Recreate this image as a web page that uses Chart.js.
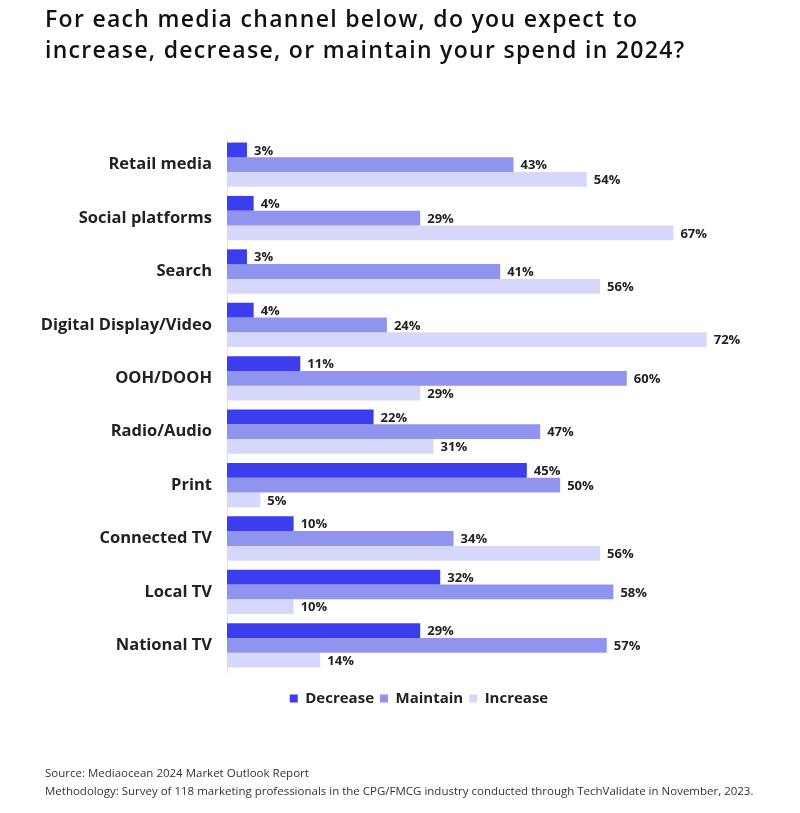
<!DOCTYPE html>
<html>
<head>
<meta charset="utf-8">
<script src="https://cdn.jsdelivr.net/npm/chart.js@4"></script>
<style>
  body { margin: 0; background: #fff; font-family: "Open Sans", sans-serif; }
  #wrap { position: relative; width: 800px; height: 813px; }
  #title { position: absolute; left: 45px; top: 3px; font-size: 23px; font-weight: 600; line-height: 31px; letter-spacing: 1.3px; color: #111; }
  #notes { position: absolute; left: 45px; top: 764px; font-size: 11.5px; line-height: 18px; color: #333; }
  canvas { position: absolute; left: 0; top: 0; }
</style>
</head>
<body>
<div id="wrap">
  <canvas id="chart" width="800" height="813"></canvas>
  <div id="title">For each media channel below, do you expect to<br>increase, decrease, or maintain your spend in 2024?</div>
  <div id="notes">Source: Mediaocean 2024 Market Outlook Report<br>Methodology: Survey of 118 marketing professionals in the CPG/FMCG industry conducted through TechValidate in November, 2023.</div>
</div>
<script>
const channels = ['Retail media', 'Social platforms', 'Search', 'Digital Display/Video', 'OOH/DOOH',
  'Radio/Audio', 'Print', 'Connected TV', 'Local TV', 'National TV'];
const decrease = [3, 4, 3, 4, 11, 22, 45, 10, 32, 29];
const maintain = [43, 29, 41, 24, 60, 47, 50, 34, 58, 57];
const increase = [54, 67, 56, 72, 29, 31, 5, 56, 10, 14];

// labels at the end of each bar
const barLabels = {
  id: 'barLabels',
  afterDatasetsDraw(chart) {
    const ctx = chart.ctx;
    ctx.save();
    ctx.font = 'bold 13px "Open Sans"';
    ctx.fillStyle = '#222';
    ctx.textBaseline = 'middle';
    chart.data.datasets.forEach((ds, i) => {
      chart.getDatasetMeta(i).data.forEach((bar, j) => {
        ctx.fillText(ds.data[j] + '%', bar.x + 7, bar.y + 1);
      });
    });
    ctx.restore();
  }
};

new Chart(document.getElementById('chart'), {
  type: 'bar',
  data: {
    labels: channels,
    datasets: [
      { label: 'Decrease', data: decrease, backgroundColor: '#3d3df0' },
      { label: 'Maintain', data: maintain, backgroundColor: '#8f95ee' },
      { label: 'Increase', data: increase, backgroundColor: '#d6d8fb' }
    ]
  },
  options: {
    indexAxis: 'y',
    responsive: false,
    animation: false,
    categoryPercentage: 0.83,
    barPercentage: 1,
    layout: { padding: { left: 38, right: 0, top: 138, bottom: 97 } },
    scales: {
      x: {
        min: 0, max: 86,
        ticks: { display: false },
        grid: { display: false, tickLength: 13 },
        border: { display: false }
      },
      y: {
        afterFit(scale) { scale.width = 189; },
        grid: { display: false },
        border: { color: '#e4e4e4' },
        ticks: { color: '#222', padding: 7, font: { family: 'Open Sans', size: 16.5, weight: 'bold' } }
      }
    },
    plugins: {
      legend: {
        position: 'bottom',
        labels: {
          boxWidth: 8, boxHeight: 8, padding: 6, color: '#222',
          font: { family: 'Open Sans', size: 15, weight: 'bold' }
        }
      },
      tooltip: { enabled: false }
    }
  },
  plugins: [barLabels]
});
</script>
</body>
</html>
